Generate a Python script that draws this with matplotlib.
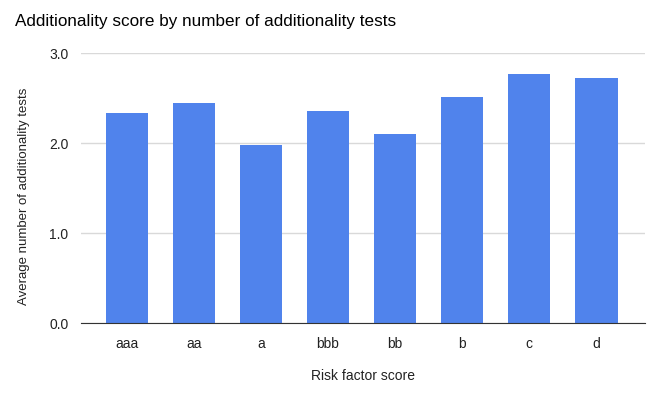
import matplotlib.pyplot as plt
import numpy as np

plt.rcParams['font.family'] = ['Liberation Sans', 'DejaVu Sans']

# risk factor categories and average number of tests
categories = ['aaa', 'aa', 'a', 'bbb', 'bb', 'b', 'c', 'd']
avg_tests = [2.33, 2.44, 1.98, 2.36, 2.10, 2.51, 2.77, 2.72]
y_ticks = [0.0, 1.0, 2.0, 3.0]

fig = plt.figure(figsize=(6.64, 3.93), dpi=100)
ax = fig.add_axes([0.122, 0.178, 0.849, 0.687])

x = np.arange(len(categories))
ax.bar(x, avg_tests, width=0.63, color='#5083EC', zorder=3)

ax.set_xlim(-0.68, len(categories) - 1 + 0.72)
ax.set_ylim(0, 3.0)
ax.set_yticks(y_ticks)
ax.set_yticklabels([f'{t:.1f}' for t in y_ticks])
ax.set_xticks(x)
ax.set_xticklabels(categories)

ax.grid(axis='y', color='#d9d9d9', linewidth=1, zorder=0)
ax.tick_params(axis='both', length=0, labelsize=10, colors='#222222', pad=9)
ax.tick_params(axis='x', pad=10)
for s in ['top', 'right', 'left']:
    ax.spines[s].set_visible(False)
ax.spines['bottom'].set_color('#333333')
ax.spines['bottom'].set_zorder(4)

ax.set_xlabel('Risk factor score', fontsize=10, color='#222222', labelpad=13)
ax.set_ylabel('Average number of additionality tests', fontsize=9.5, color='#222222')
ax.yaxis.set_label_coords(-0.090, 0.47)

fig.text(0.023, 0.945, 'Additionality score by number of additionality tests',
         fontsize=12.3, color='#000000', va='center', ha='left')

fig.savefig('out.png', dpi=100)
